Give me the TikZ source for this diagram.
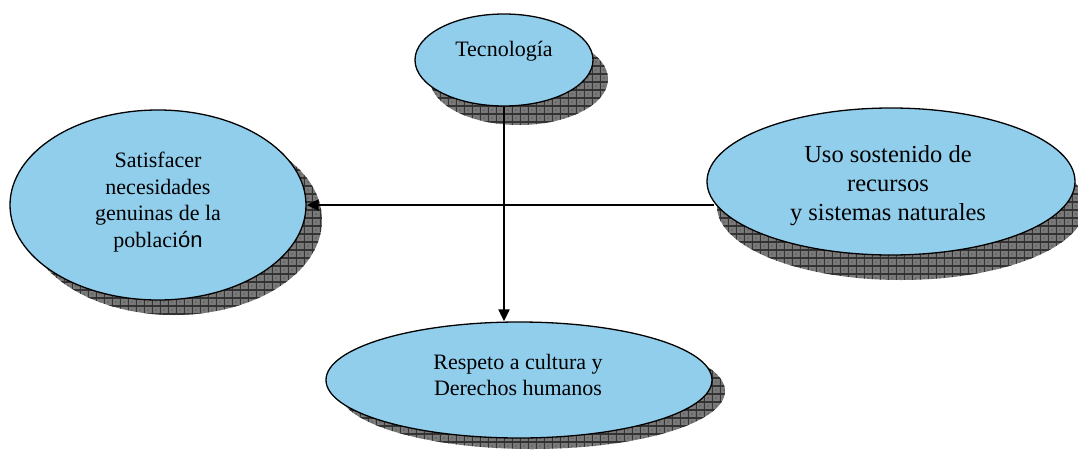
\documentclass[tikz,border=0pt]{standalone}
\usepackage{fontspec}
\setmainfont{Liberation Serif}
\newfontfamily\arialfont{Liberation Sans}
\usetikzlibrary{shapes.geometric,arrows.meta,patterns.meta}
\definecolor{bubble}{RGB}{145,206,236}
\definecolor{shadowgray}{RGB}{122,122,122}
\tikzdeclarepattern{
  name=shadowgrid,
  type=uncolored,
  bottom left={(-.1pt,-.1pt)},
  top right={(8.1pt,8.1pt)},
  tile size={(8pt,8pt)},
  code={
    \tikzset{x=1pt,y=1pt}
    \draw[line width=1.2pt] (0,0) -- (8,0) (0,0) -- (0,8);
    \fill (4,4) circle (0.6pt);
  }
}
\tikzset{
  bubble/.style args={#1/#2/#3/#4}{ellipse, draw=black, line width=1.3pt, fill=bubble,
    inner sep=0pt, minimum width=#1pt, minimum height=#2pt,
    preaction={fill=shadowgray, transform canvas={shift={(#3pt,-#4pt)}}},
    preaction={pattern={shadowgrid}, pattern color=black!80, transform canvas={shift={(#3pt,-#4pt)}}}},
  lbl/.style={align=center, inner sep=0pt, font=\fontsize{22}{26.5}\selectfont},
  conn/.style={line width=2pt, -{Triangle[length=12pt,width=11pt]}}
}
\begin{document}
\begin{tikzpicture}[x=1pt,y=-1pt]
\useasboundingbox (0,0) rectangle (1078,450);
\node[bubble=178/92/15/19] (tec) at (504,60) {};
\node[bubble=296/190/16/15] (sat) at (158,205) {};
\node[bubble=368/147/10/25] (uso) at (891,181.5) {};
\node[bubble=386/116/13/11] (res) at (519,380) {};
\node[lbl, font=\fontsize{22}{26}\selectfont, anchor=base] (tecT) at (504,56) {Tecnología};
\node[lbl] (satT) at (158,202) {Satisfacer\\necesidades\\genuinas de la\\poblaci{\arialfont ón}};
\node[lbl, font=\fontsize{24.5}{29}\selectfont] (usoT) at (888,186) {Uso sostenido de\\recursos\\y sistemas naturales};
\node[lbl] (resT) at (518,375) {Respeto a cultura y\\Derechos humanos};
\draw[conn] (tec.south) -- (tec.south |- res.north);
\draw[conn] (sat.east -| uso.187.6) -- (sat.east);
\end{tikzpicture}
\end{document}
